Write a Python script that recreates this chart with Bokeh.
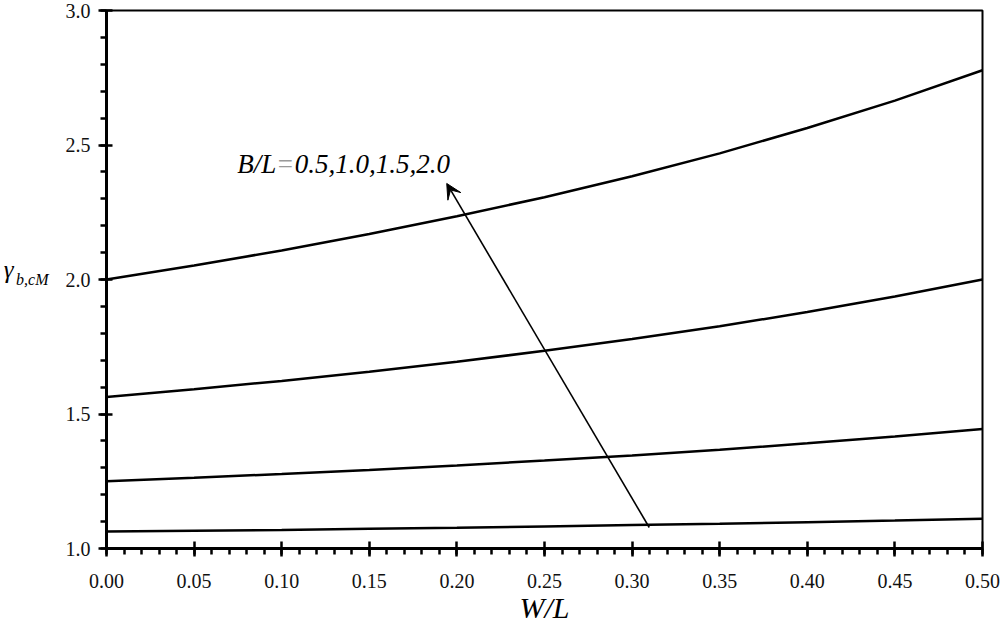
from bokeh.plotting import figure
from bokeh.models import (Range1d, SingleIntervalTicker, FixedTicker, PrintfTickFormatter,
                          Label, Arrow, VeeHead, LinearAxis)
from bokeh.embed import file_html
from bokeh.resources import INLINE

# ---- data ----
w_over_l = [0.00, 0.05, 0.10, 0.15, 0.20, 0.25, 0.30, 0.35, 0.40, 0.45, 0.50]
gamma_bl_20 = [2.000, 2.052, 2.108, 2.169, 2.235, 2.306, 2.384, 2.469, 2.563, 2.665, 2.778]
gamma_bl_15 = [1.563, 1.592, 1.623, 1.657, 1.694, 1.735, 1.779, 1.826, 1.879, 1.937, 2.000]
gamma_bl_10 = [1.250, 1.263, 1.277, 1.292, 1.309, 1.327, 1.346, 1.367, 1.391, 1.416, 1.444]
gamma_bl_05 = [1.063, 1.066, 1.069, 1.073, 1.077, 1.082, 1.087, 1.092, 1.098, 1.104, 1.111]
series = [gamma_bl_05, gamma_bl_10, gamma_bl_15, gamma_bl_20]

FONT = "Liberation Serif"

p = figure(width=1000, height=628, output_backend="svg", toolbar_location=None,
           x_range=Range1d(0.0, 0.5), y_range=Range1d(1.0, 3.0),
           min_border_left=104, min_border_right=18, min_border_top=10,
           min_border_bottom=80)
p.xgrid.visible = False
p.ygrid.visible = False
p.background_fill_color = "white"
p.border_fill_color = "white"
p.outline_line_color = "black"
p.outline_line_width = 2

xa = p.xaxis[0]
xa.ticker = SingleIntervalTicker(interval=0.05, num_minor_ticks=5)
xa.formatter = PrintfTickFormatter(format="%.2f")
xa.major_tick_in = 7
xa.major_tick_out = 8
xa.minor_tick_in = 0
xa.minor_tick_out = 6
xa.major_label_standoff = 17
xa.axis_label = "W/L"
xa.axis_label_text_font = FONT
xa.axis_label_text_font_style = "italic"
xa.axis_label_text_font_size = "30px"
xa.axis_label_text_color = "black"
xa.axis_label_standoff = 0

ya = p.yaxis[0]
ya.ticker = SingleIntervalTicker(interval=0.5, num_minor_ticks=5)
ya.formatter = PrintfTickFormatter(format="%.1f")
ya.major_tick_in = 6
ya.major_tick_out = 8
ya.minor_tick_in = 0
ya.minor_tick_out = 6
ya.major_label_standoff = 8
ya.axis_label = "b,cM"
ya.axis_label_orientation = "horizontal"
ya.axis_label_text_font = FONT
ya.axis_label_text_font_style = "italic"
ya.axis_label_text_font_size = "16px"
ya.axis_label_text_color = "black"
ya.axis_label_standoff = 14

for ax in (xa, ya):
    ax.axis_line_width = 3
    ax.axis_line_color = "black"
    ax.major_tick_line_width = 2.5
    ax.minor_tick_line_width = 2.5
    ax.major_tick_line_color = "black"
    ax.minor_tick_line_color = "black"
    ax.major_label_text_font = FONT
    ax.major_label_text_font_size = "20px"
    ax.major_label_text_color = "#111111"

# outer axis that only carries the gamma symbol
ga = LinearAxis(ticker=FixedTicker(ticks=[]), axis_line_color=None,
                major_tick_line_color=None, minor_tick_line_color=None,
                major_tick_out=0, major_tick_in=0, minor_tick_out=0, minor_tick_in=0,
                major_label_standoff=0, axis_label="\u03b3\n\u00a0",
                axis_label_orientation="horizontal", axis_label_standoff=0,
                axis_label_text_font=FONT, axis_label_text_font_style="italic",
                axis_label_text_font_size="25px", axis_label_text_color="black",
                axis_label_text_line_height=0.72)
p.add_layout(ga, "left")

for ys in series:
    p.line(w_over_l, ys, line_color="black", line_width=2.5)

# arrow
p.add_layout(Arrow(end=VeeHead(size=15, fill_color="black", line_color="black", line_width=1),
                   x_start=0.3098, y_start=1.078, x_end=0.1942, y_end=2.357,
                   line_color="black", line_width=1.6))

# annotation text
TY = 2.428
p.add_layout(Label(x=0.0746, y=TY, text="B/L", text_font=FONT, text_font_style="italic",
                   text_font_size="27px", text_color="black", text_baseline="alphabetic"))
p.add_layout(Label(x=0.0977, y=TY, text="=", text_font=FONT,
                   text_font_size="27px", text_color="#9a9a9a", text_baseline="alphabetic"))
p.add_layout(Label(x=0.1075, y=TY, text="0.5,1.0,1.5,2.0", text_font=FONT,
                   text_font_style="italic", text_font_size="27px", text_color="black",
                   text_baseline="alphabetic"))

open("out.html", "w").write(file_html(p, INLINE))
